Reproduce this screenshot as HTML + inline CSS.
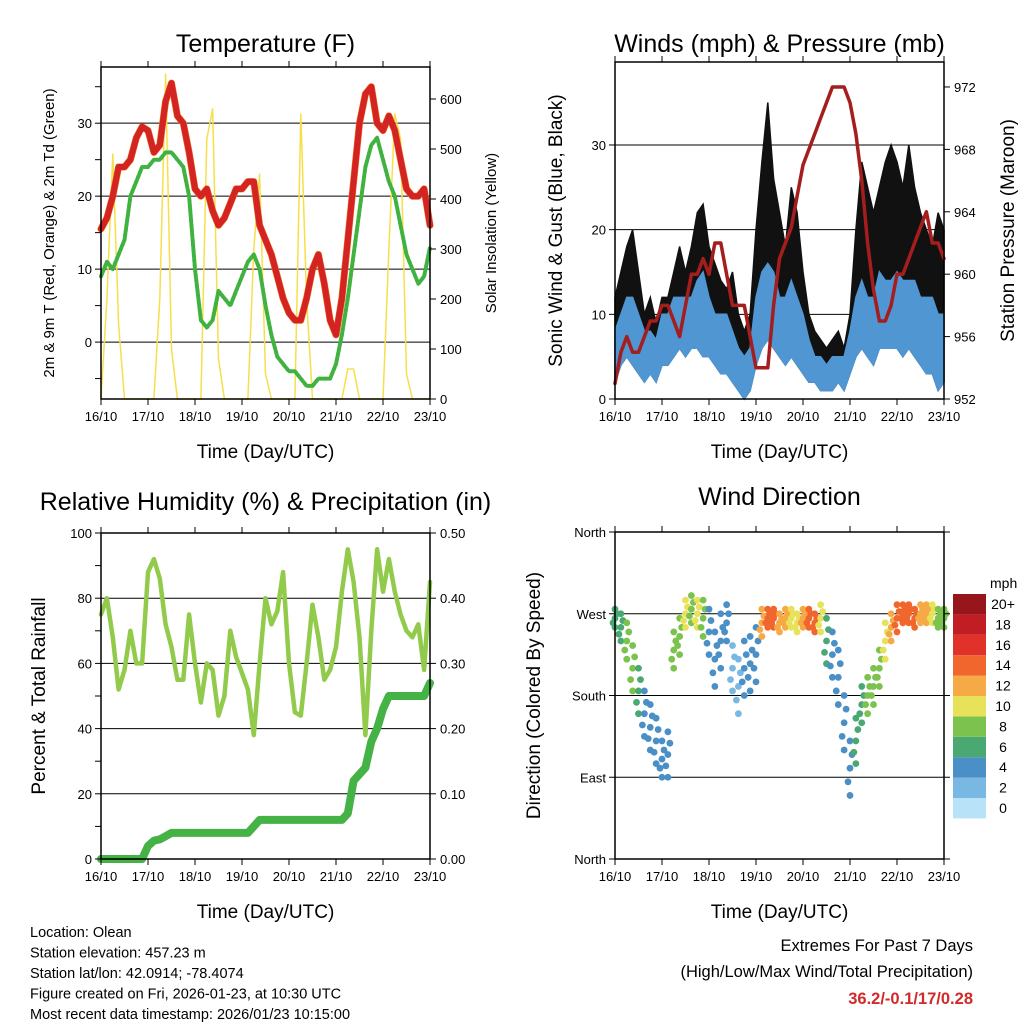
<!DOCTYPE html>
<html><head><meta charset="utf-8"><style>
body{margin:0;background:#fff}
svg{display:block;font-family:"Liberation Sans",sans-serif}
</style></head><body>
<svg id="c" width="1024" height="1024" xmlns="http://www.w3.org/2000/svg"></svg>
<script>
const dayLabels=["16/10","17/10","18/10","19/10","20/10","21/10","22/10","23/10"];
const tempT=[15.5,17,20,24,24,25,28,29.5,29,26,27,33,35.5,31,30,26,21,20,21,18,16,17,19,21,21,22,22,16,14,12,9,6,4,3,3,6,10,12,8,3,1,6,14,22,30,34,35,30,29,31,29,25,21,20,20,21,16];
const tempTd=[9,11,10,12,14,20,22,24,24,25,25,26,26,25,24,20,10,3,2,3,7,6,5,7,9,11,12,10,5,1,-2,-3,-4,-4,-5,-6,-6,-5,-5,-5,-3,1,6,12,18,24,27,28,25,22,20,16,12,10,8,9,13];
const solar=[0,200,490,150,0,0,0,0,0,0,200,650,100,0,0,0,0,0,520,580,80,0,0,0,0,0,300,450,50,0,0,0,0,0,570,200,0,0,0,0,0,0,60,60,0,0,0,0,0,300,570,520,50,0,0,0,0];
const gustMax=[12,15,18,20,15,10,12,9,12,12,15,18,15,18,22,23,18,16,14,13,15,10,8,10,20,28,35,26,22,18,25,22,15,10,8,7,6,7,8,6,10,20,28,25,22,25,28,30,28,25,30,25,22,20,18,22,20];
const windMax=[8,10,12,12,10,8,8,7,10,10,12,12,12,12,14,15,12,10,10,10,8,6,5,6,12,15,16,15,12,12,14,12,10,7,5,5,4,5,5,5,8,12,14,12,12,15,14,14,15,14,14,14,12,12,12,10,10];
const windMin=[2,4,5,4,3,2,3,2,4,4,5,6,5,6,6,5,5,4,3,3,2,1,0,1,4,6,7,6,5,4,5,4,3,2,2,1,1,1,2,1,3,5,6,5,4,6,6,6,6,5,6,5,4,3,3,1,2];
const pressure=[953,955,956,955,955,956,957,957,958,958,957,956,958,960,960,961,960,962,962,960,958,958,958,956,954,954,954,958,961,962,963,965,967,968,969,970,971,972,972,972,971,969,966,962,959,957,957,958,960,960,961,962,963,964,962,962,961];
const rh=[75,80,68,52,58,70,60,60,88,92,86,72,65,55,55,75,60,48,60,58,44,50,70,62,57,52,38,60,80,72,76,88,60,45,44,60,78,68,55,58,65,82,95,85,68,38,70,95,82,92,82,75,70,68,72,58,85];
const precip=[0,0,0,0,0,0,0,0,0.02,0.028,0.03,0.035,0.04,0.04,0.04,0.04,0.04,0.04,0.04,0.04,0.04,0.04,0.04,0.04,0.04,0.04,0.05,0.06,0.06,0.06,0.06,0.06,0.06,0.06,0.06,0.06,0.06,0.06,0.06,0.06,0.06,0.06,0.07,0.12,0.13,0.14,0.18,0.2,0.23,0.25,0.25,0.25,0.25,0.25,0.25,0.25,0.27];
const windDir=[265,255,240,210,185,160,145,130,110,115,230,245,270,275,270,265,250,220,240,260,210,190,210,215,225,260,265,265,260,265,265,260,265,265,260,265,240,225,200,150,100,130,170,180,190,210,240,255,265,270,270,265,270,270,270,265,265];
const dirSpread=[10,15,20,25,25,25,25,25,20,25,20,20,15,15,15,20,25,30,30,20,25,30,30,30,30,15,10,10,10,10,10,10,10,10,10,15,25,25,30,30,30,25,20,20,20,20,20,15,15,10,10,10,10,10,10,10,10];
const windSpd=[6,6,7,7,5,4,4,3,3,3,7,8,9,8,9,8,4,3,3,3,2,2,3,3,3,12,14,13,12,11,10,9,11,13,14,10,5,4,3,3,3,5,6,7,7,8,10,12,13,14,14,13,12,11,10,8,8];
const cbLabels=["0","2","4","6","8","10","12","14","16","18","20+"];
const cbColors=["#b8e2f8","#7ab8e4","#4a8fc6","#4aa873","#7cc24e","#e7e25a","#f6aa45","#f0662d","#e0322a","#c01d24","#96161b"];

const S=document.getElementById('c');const NS="http://www.w3.org/2000/svg";
function el(t,a,p){const e=document.createElementNS(NS,t);for(const k in a)e.setAttribute(k,a[k]);(p||S).appendChild(e);return e;}
function txt(s,a,p){const e=el('text',a,p);e.textContent=s;return e;}
const N=tempT.length;

function panel(P){
  const g=el('g',{});
  
  
  const X=i=>P.x0+(P.x1-P.x0)*i/(N-1);
  const Y=v=>P.y1-(v-P.lmin)/(P.lmax-P.lmin)*(P.y1-P.y0);
  const Y2=v=>P.y1-(v-P.rmin)/(P.rmax-P.rmin)*(P.y1-P.y0);
  P.X=X;P.Y=Y;P.Y2=Y2;P.g=g;
  P.lticks.forEach(t=>{const y=Y(t.v);if(t.grid){const l=el('line',{x1:P.x0,x2:P.x1,y1:y,y2:y,stroke:'#000','stroke-width':1},g);}});
  P.draw(P);
  el('rect',{x:P.x0,y:P.y0,width:P.x1-P.x0,height:P.y1-P.y0,fill:'none',stroke:'#000','stroke-width':1.5},g);
  dayLabels.forEach((d,k)=>{const x=P.x0+(P.x1-P.x0)*k/7;
    el('line',{x1:x,x2:x,y1:P.y1,y2:P.y1+6,stroke:'#000'},g);el('line',{x1:x,x2:x,y1:P.y0,y2:P.y0-6,stroke:'#000'},g);
    const t=txt(d,{x:x,y:P.y1+22,'font-size':13,'text-anchor':'middle'},g);
    });
  P.lticks.forEach(t=>{const y=Y(t.v);el('line',{x1:P.x0-6,x2:P.x0,y1:y,y2:y,stroke:'#000'},g);
    if(t.l!==undefined){const e=txt(t.l,{x:P.x0-9,y:y+5,'font-size':13,'text-anchor':'end'},g);}});
  if(P.rticks)P.rticks.forEach(t=>{const y=Y2(t.v);el('line',{x1:P.x1,x2:P.x1+6,y1:y,y2:y,stroke:'#000'},g);
    const e=txt(t.l,{x:P.x1+10,y:y+5,'font-size':13},g);});
  else P.lticks.forEach(t=>{const y=Y(t.v);el('line',{x1:P.x1,x2:P.x1+6,y1:y,y2:y,stroke:'#000'},g);});
  const ti=txt(P.title,{x:(P.x0+P.x1)/2,y:P.ty,'font-size':25,'text-anchor':'middle'},g);
  const xt=txt('Time (Day/UTC)',{x:(P.x0+P.x1)/2,y:P.y1+59,'font-size':19,'text-anchor':'middle'},g);
  const lt=txt(P.ltitle,{x:0,y:0,'font-size':P.lts,'text-anchor':'middle',transform:`translate(${P.ltx},${(P.y0+P.y1)/2}) rotate(-90)`},g);
  if(P.rtitle){const rt=txt(P.rtitle,{x:0,y:0,'font-size':P.rts,'text-anchor':'middle',transform:`translate(${P.rtx},${(P.y0+P.y1)/2}) rotate(-90)`},g);}
}
function line(P,arr,f,st,name){const d=arr.map((v,i)=>(i?'L':'M')+P.X(i).toFixed(1)+','+f(v).toFixed(1)).join('');
  const p=el('path',Object.assign({d:d,fill:'none','stroke-linejoin':'round','stroke-linecap':'round'},st),P.g);return p;}
function band(P,lo,hi,f,fill,name){let d=hi.map((v,i)=>(i?'L':'M')+P.X(i).toFixed(1)+','+f(v).toFixed(1)).join('');
  for(let i=N-1;i>=0;i--)d+='L'+P.X(i).toFixed(1)+','+f(lo[i]).toFixed(1);d+='Z';
  const p=el('path',{d:d,fill:fill,stroke:fill,'stroke-width':1.5},P.g);}

panel({name:'temperature-panel',x0:101,x1:430,y0:67,y1:399,lmin:-7.8,lmax:37.7,rmin:0,rmax:664,title:'Temperature (F)',ty:52,
  ltitle:'2m & 9m T (Red, Orange) & 2m Td (Green)',ltx:54,lts:15,rtitle:'Solar Insolation (Yellow)',rtx:496,rts:15,
  lticks:[{v:0,l:'0',grid:1},{v:10,l:'10',grid:1},{v:20,l:'20',grid:1},{v:30,l:'30',grid:1},{v:-5},{v:5},{v:15},{v:25},{v:35}],
  rticks:[0,100,200,300,400,500,600].map(v=>({v:v,l:String(v)})),
  draw:P=>{line(P,solar,P.Y2,{stroke:'#f7df4a','stroke-width':1.5},'solar-line');
    line(P,tempTd,P.Y,{stroke:'#3fb23f','stroke-width':4,'stroke-dasharray':'3 2'},'dewpoint-line');
    line(P,tempT,P.Y,{stroke:'#ef7a20','stroke-width':7},'temp-9m-line');
    line(P,tempT,P.Y,{stroke:'#d42323','stroke-width':6},'temp-2m-line');}});

panel({name:'wind-pressure-panel',x0:615,x1:944,y0:62,y1:399,lmin:0,lmax:39.8,rmin:952,rmax:973.6,title:'Winds (mph) & Pressure (mb)',ty:52,
  ltitle:'Sonic Wind & Gust (Blue, Black)',ltx:562,lts:19,rtitle:'Station Pressure (Maroon)',rtx:1014,rts:19,
  lticks:[{v:0,l:'0'},{v:10,l:'10',grid:1},{v:20,l:'20',grid:1},{v:30,l:'30',grid:1}],
  rticks:[952,956,960,964,968,972].map(v=>({v:v,l:String(v)})),
  draw:P=>{band(P,windMin,gustMax,P.Y,'#111','gust-band');
    band(P,windMin,windMax,P.Y,'#4f96d2','wind-band');
    line(P,pressure,P.Y2,{stroke:'#a51e1e','stroke-width':3.5},'pressure-line');}});

panel({name:'humidity-precip-panel',x0:101,x1:430,y0:533,y1:859,lmin:0,lmax:100,rmin:0,rmax:0.5,title:'Relative Humidity (%) & Precipitation (in)',ty:510,
  ltitle:'Percent & Total Rainfall',ltx:45,lts:19,
  lticks:[{v:0,l:'0'},{v:20,l:'20',grid:1},{v:40,l:'40',grid:1},{v:60,l:'60',grid:1},{v:80,l:'80',grid:1},{v:100,l:'100'},{v:10},{v:30},{v:50},{v:70},{v:90}],
  rticks:[0,0.1,0.2,0.3,0.4,0.5].map(v=>({v:v,l:v.toFixed(2)})),
  draw:P=>{line(P,rh,P.Y,{stroke:'#92cb4c','stroke-width':4.5},'humidity-line');
    line(P,precip,P.Y2,{stroke:'#45b245','stroke-width':8},'precip-line');}});

panel({name:'wind-direction-panel',x0:615,x1:944,y0:532,y1:859,lmin:0,lmax:360,title:'Wind Direction',ty:505,
  ltitle:'Direction (Colored By Speed)',ltx:540,lts:19,
  lticks:[{v:0,l:'North'},{v:90,l:'East',grid:1},{v:180,l:'South',grid:1},{v:270,l:'West',grid:1},{v:360,l:'North'}],
  draw:P=>{windDir.forEach((d,i)=>{const c=cbColors[Math.min(10,Math.floor((windSpd[i]+1)/2))];
      for(let k=-2;k<=2;k++){const dd=d+dirSpread[i]*k/2;
        const ci=el('circle',{cx:P.X(i)+(k%2)*2,cy:P.Y(dd),r:3.4,fill:c},P.g);
        
        }});}});

const cb=el('g',{});
txt('mph',{x:990,y:588,'font-size':14},cb);
cbColors.forEach((c,k)=>{const y=798-k*20.4;el('rect',{x:953,y:y,width:33,height:20.4,fill:c},cb);
  const t=txt(cbLabels[k],{x:1003,y:y+15,'font-size':14,'text-anchor':'middle'},cb);});

const info=["Location: Olean","Station elevation: 457.23 m","Station lat/lon: 42.0914; -78.4074","Figure created on Fri, 2026-01-23, at 10:30 UTC","Most recent data timestamp: 2026/01/23 10:15:00"];
info.forEach((s,k)=>{const t=txt(s,{x:30,y:937+k*20.5,'font-size':14.5});});
let t=txt('Extremes For Past 7 Days',{x:973,y:951,'font-size':16.5,'text-anchor':'end'});
t=txt('(High/Low/Max Wind/Total Precipitation)',{x:973,y:977,'font-size':16.5,'text-anchor':'end'});
t=txt('36.2/-0.1/17/0.28',{x:973,y:1004,'font-size':16.5,'font-weight':'bold',fill:'#d02a2a','text-anchor':'end'});
</script>
</body></html>
